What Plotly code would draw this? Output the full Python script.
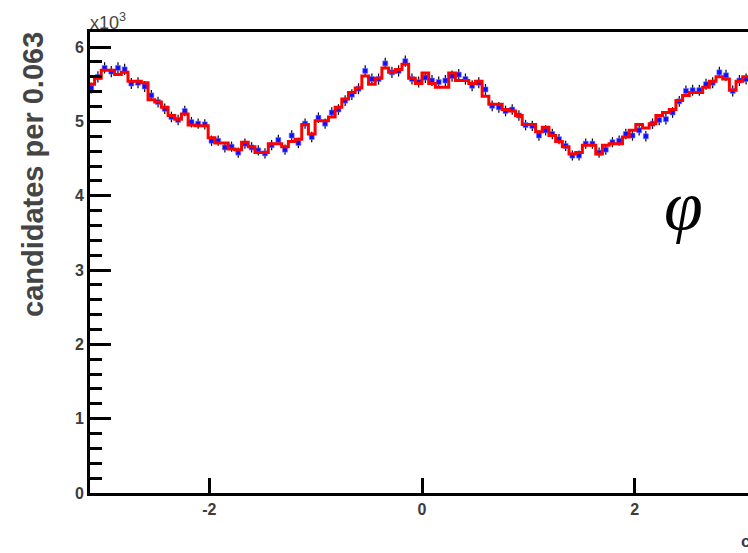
import numpy as np
import plotly.graph_objects as go

# phi distribution, 100 bins over [-pi, pi]; counts in units of 10^3
N_BINS = 100
fit_counts = [
    5.50, 5.58, 5.69, 5.69, 5.63, 5.66, 5.54, 5.54, 5.52, 5.29,
    5.26, 5.19, 5.08, 5.03, 5.10, 4.95, 4.94, 4.94, 4.78, 4.71,
    4.71, 4.63, 4.62, 4.72, 4.66, 4.58, 4.58, 4.70, 4.70, 4.66,
    4.73, 4.76, 4.96, 4.83, 5.01, 5.01, 5.06, 5.19, 5.30, 5.39,
    5.45, 5.61, 5.50, 5.58, 5.72, 5.66, 5.70, 5.77, 5.58, 5.51,
    5.65, 5.51, 5.46, 5.46, 5.65, 5.55, 5.55, 5.51, 5.54, 5.34,
    5.23, 5.23, 5.16, 5.14, 5.08, 4.96, 4.96, 4.86, 4.92, 4.81,
    4.73, 4.66, 4.56, 4.58, 4.68, 4.68, 4.56, 4.68, 4.70, 4.70,
    4.79, 4.88, 4.96, 4.91, 4.97, 5.08, 5.12, 5.16, 5.28, 5.35,
    5.39, 5.39, 5.46, 5.54, 5.60, 5.57, 5.42, 5.54, 5.60, 5.58,
]
data_counts = [
    5.45, 5.60, 5.72, 5.67, 5.72, 5.70, 5.51, 5.52, 5.47, 5.35,
    5.26, 5.17, 5.06, 5.02, 5.14, 4.99, 4.97, 4.96, 4.74, 4.74,
    4.65, 4.66, 4.58, 4.70, 4.65, 4.61, 4.57, 4.68, 4.75, 4.62,
    4.81, 4.71, 4.97, 4.79, 5.05, 4.97, 5.12, 5.16, 5.28, 5.36,
    5.44, 5.68, 5.57, 5.57, 5.78, 5.66, 5.68, 5.81, 5.57, 5.53,
    5.59, 5.55, 5.53, 5.55, 5.61, 5.63, 5.57, 5.48, 5.52, 5.43,
    5.21, 5.19, 5.14, 5.16, 5.08, 4.95, 4.94, 4.81, 4.88, 4.83,
    4.76, 4.67, 4.54, 4.54, 4.70, 4.70, 4.58, 4.62, 4.72, 4.74,
    4.83, 4.81, 4.88, 4.80, 4.97, 5.02, 5.03, 5.12, 5.27, 5.41,
    5.42, 5.42, 5.50, 5.52, 5.66, 5.62, 5.41, 5.55, 5.57, 5.56,
]
x_ticks = [-2, 0, 2]
x_tick_labels = ["-2", "0", "2"]
y_ticks = [0, 1, 2, 3, 4, 5, 6]
y_tick_labels = ["0", "1", "2", "3", "4", "5", "6"]

edges = np.linspace(-np.pi, np.pi, N_BINS + 1)
centers = 0.5 * (edges[:-1] + edges[1:])
data = np.array(data_counts)
errors = np.sqrt(data * 1000.0) / 1000.0  # Poisson errors, in 10^3

W, H = 748, 553
L, R, T, B = 90, 0, 32, 60
X0_PX, X_SCALE = 422.0, 106.35     # pixel of phi=0 and pixels per unit
Y_TOP = 6.203

x_lo = (L - X0_PX) / X_SCALE
x_hi = (W - R - X0_PX) / X_SCALE


def px_x(px):
    return (px - L) / (W - L - R)


def px_y(py):
    return (H - B - py) / (H - T - B)


fig = go.Figure()

# data points with error bars
fig.add_trace(go.Scatter(
    x=centers, y=data, mode="markers",
    marker=dict(symbol="square", size=5, color="#1010ff",
                line=dict(width=1, color="rgba(120,120,255,0.6)")),
    error_y=dict(type="data", array=errors, color="black",
                 thickness=1.2, width=0),
    showlegend=False,
))

# fitted histogram as a step line
step_x = np.append(edges[:-1], edges[-1])
step_y = fit_counts + [fit_counts[-1]]
fig.add_trace(go.Scatter(
    x=step_x, y=step_y, mode="lines",
    line=dict(color="#ff0000", width=3, shape="hv"),
    showlegend=False,
))

tick_font = dict(family="Liberation Sans, Arial, sans-serif", size=16,
                 color="#3c3c3c", weight="bold")

fig.update_layout(
    width=W, height=H,
    margin=dict(l=L, r=R, t=T, b=B, pad=0),
    paper_bgcolor="white", plot_bgcolor="white",
    xaxis=dict(
        range=[x_lo, x_hi], showgrid=False, zeroline=False,
        showline=True, linecolor="black", linewidth=3, mirror=True,
        ticks="inside", ticklen=15, tickwidth=3, tickcolor="black",
        tickvals=x_ticks, ticktext=x_tick_labels, tickfont=tick_font,
    ),
    yaxis=dict(
        range=[0, Y_TOP], showgrid=False, zeroline=False,
        showline=True, linecolor="black", linewidth=3,
        ticks="inside", ticklen=21, tickwidth=3, tickcolor="black",
        tickvals=y_ticks, ticktext=y_tick_labels, tickfont=tick_font,
        minor=dict(tick0=0, dtick=0.2, ticks="inside", ticklen=12,
                   tickwidth=3, tickcolor="black", showgrid=False),
    ),
    annotations=[
        dict(text="candidates per 0.063", textangle=-90,
             xref="paper", yref="paper", x=px_x(33), y=px_y(175),
             xanchor="center", yanchor="middle", showarrow=False,
             font=dict(family="Liberation Sans, Arial, sans-serif",
                       size=29, color="#444444", weight="bold")),
        dict(text="x10<sup>3</sup>",
             xref="paper", yref="paper", x=px_x(88), y=px_y(22),
             xanchor="left", yanchor="middle", showarrow=False,
             font=dict(family="Liberation Sans, Arial, sans-serif",
                       size=18, color="#444444")),
        dict(text="φ",
             xref="paper", yref="paper", x=px_x(683), y=px_y(206),
             xanchor="center", yanchor="middle", showarrow=False,
             font=dict(family="Liberation Serif, Times New Roman, serif",
                       size=70, color="black", style="italic")),
        dict(text="c",
             xref="paper", yref="paper", x=px_x(739), y=px_y(541),
             xanchor="left", yanchor="middle", showarrow=False,
             font=dict(family="Liberation Sans, Arial, sans-serif",
                       size=17, color="#3c3c3c", weight="bold")),
    ],
)

fig.write_html("out.html")
